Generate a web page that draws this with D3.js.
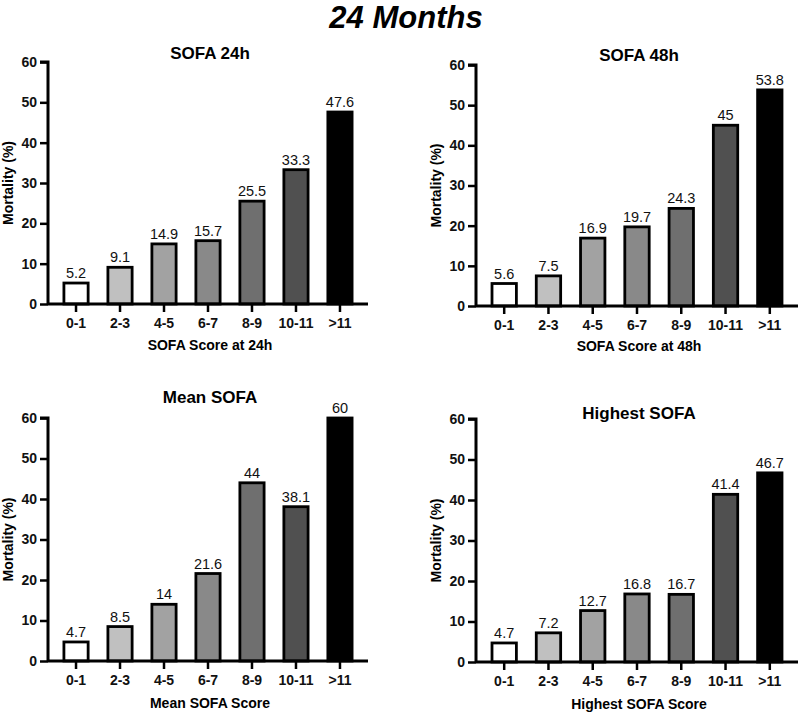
<!DOCTYPE html>
<html>
<head>
<meta charset="utf-8">
<script src="https://cdn.jsdelivr.net/npm/d3@7"></script>
<style>
  html, body { margin: 0; padding: 0; background: #fff; }
  svg { display: block; font-family: "Liberation Sans", Arial, Helvetica, sans-serif; }
</style>
</head>
<body>
<svg id="chart" width="800" height="713"></svg>
<script>
const categories = ["0-1", "2-3", "4-5", "6-7", "8-9", "10-11", ">11"];
const sofa24 = [5.2, 9.1, 14.9, 15.7, 25.5, 33.3, 47.6];
const sofa48 = [5.6, 7.5, 16.9, 19.7, 24.3, 45, 53.8];
const meanSofa = [4.7, 8.5, 14, 21.6, 44, 38.1, 60];
const highestSofa = [4.7, 7.2, 12.7, 16.8, 16.7, 41.4, 46.7];
const panelTitles = ["SOFA 24h", "SOFA 48h", "Mean SOFA", "Highest SOFA"];
const xTitles = ["SOFA Score at 24h", "SOFA Score at 48h", "Mean SOFA Score", "Highest SOFA Score"];
const yTicks = [0, 10, 20, 30, 40, 50, 60];
const barFills = ["#ffffff", "#c0c0c0", "#a2a2a2", "#898989", "#6f6f6f", "#505050", "#000000"];
const mainTitle = "24 Months";
const yTitle = "Mortality (%)";

const svg = d3.select("#chart");

svg.append("text")
  .attr("x", 406).attr("y", 28)
  .attr("text-anchor", "middle")
  .style("font-size", "31px").style("font-weight", "bold").style("font-style", "italic")
  .text(mainTitle);

// layout for each panel (geometry only)
const layouts = [
  { x0: 48, x1: 368, yTop: 62, yBot: 304, titleY: 59, xTitleY: 350, yLabX: 13 },
  { x0: 476, x1: 798, yTop: 65, yBot: 306, titleY: 61, xTitleY: 351, yLabX: 441 },
  { x0: 48, x1: 368, yTop: 418, yBot: 661, titleY: 403, xTitleY: 708, yLabX: 13 },
  { x0: 476, x1: 798, yTop: 419, yBot: 662, titleY: 419, xTitleY: 709, yLabX: 441 }
];
const datasets = [sofa24, sofa48, meanSofa, highestSofa];

datasets.forEach((vals, i) => {
  const L = layouts[i];
  const g = svg.append("g");
  const x = d3.scaleBand().domain(categories).range([L.x0, L.x1])
    .paddingInner(0.386).paddingOuter(0.33);
  const y = d3.scaleLinear().domain([0, 60]).range([L.yBot, L.yTop]);
  const cx = (L.x0 + L.x1) / 2;

  const sw = 2.8;
  g.selectAll("rect.bar").data(vals).join("rect")
    .attr("class", "bar")
    .attr("x", (d, j) => x(categories[j]) + sw / 2)
    .attr("width", x.bandwidth() - sw)
    .attr("y", d => y(d))
    .attr("height", d => y(0) - y(d))
    .attr("fill", (d, j) => barFills[j])
    .attr("stroke", "#000").attr("stroke-width", sw);

  g.selectAll("text.val").data(vals).join("text")
    .attr("class", "val")
    .attr("x", (d, j) => x(categories[j]) + x.bandwidth() / 2)
    .attr("y", d => y(d) - 5)
    .attr("text-anchor", "middle")
    .style("font-size", "14.5px").attr("fill", "#111")
    .text(d => d);

  const yAxis = d3.axisLeft(y).tickValues(yTicks).tickSize(8).tickPadding(3);
  const ya = g.append("g").attr("transform", `translate(${L.x0},0)`).call(yAxis);
  ya.select(".domain").attr("d", `M-8,${L.yTop}H0V${L.yBot}`).attr("stroke-width", 3);
  ya.selectAll(".tick line").attr("stroke-width", 2.5);
  ya.selectAll(".tick text").style("font-size", "14px").style("font-weight", "bold").attr("fill", "#111");

  const xAxis = d3.axisBottom(x).tickSize(8).tickPadding(6);
  const xa = g.append("g").attr("transform", `translate(0,${L.yBot})`).call(xAxis);
  xa.select(".domain").attr("d", `M${L.x0},0H${L.x1}`).attr("stroke-width", 3);
  xa.selectAll(".tick line").attr("stroke-width", 2.5);
  xa.selectAll(".tick text").style("font-size", "14px").style("font-weight", "bold").attr("fill", "#111");

  g.append("text").attr("x", cx + 2).attr("y", L.titleY)
    .attr("text-anchor", "middle")
    .style("font-size", "17px").style("font-weight", "bold")
    .text(panelTitles[i]);
  g.append("text").attr("x", cx + 2).attr("y", L.xTitleY)
    .attr("text-anchor", "middle")
    .style("font-size", "14px").style("font-weight", "bold")
    .text(xTitles[i]);
  g.append("text")
    .attr("transform", `translate(${L.yLabX},${(L.yTop + L.yBot) / 2}) rotate(-90)`)
    .attr("text-anchor", "middle")
    .style("font-size", "14px").style("font-weight", "bold")
    .text(yTitle);
});
</script>
</body>
</html>
